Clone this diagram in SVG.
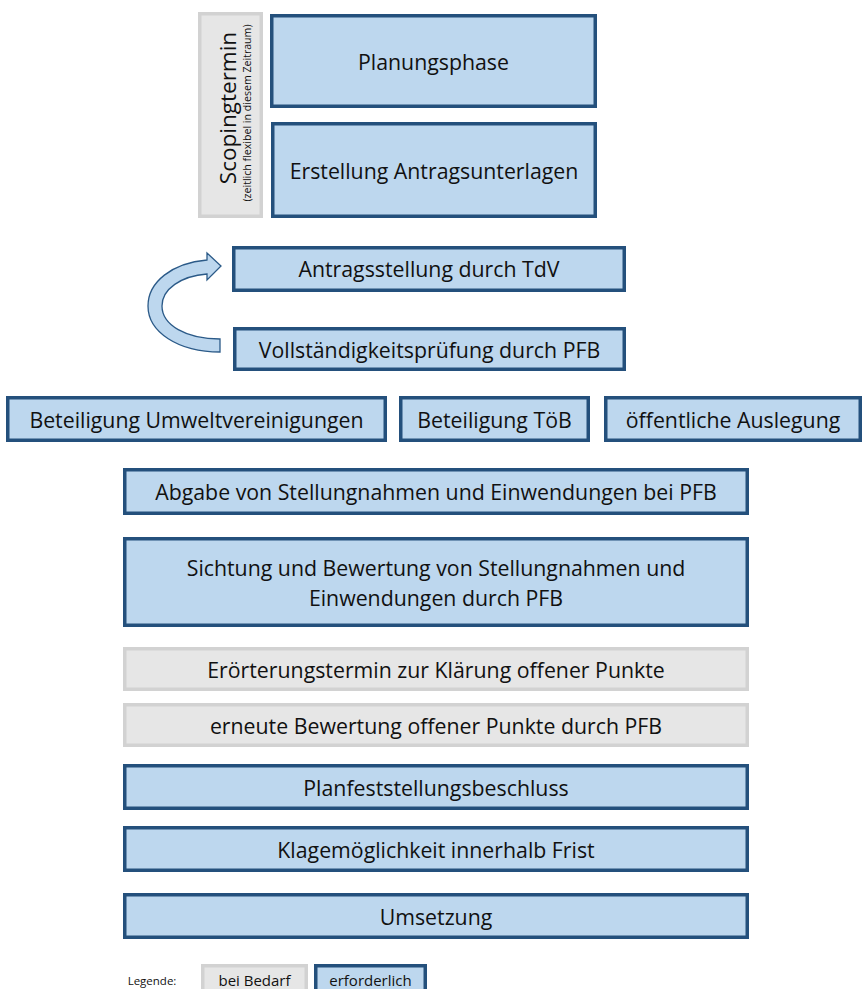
<svg xmlns="http://www.w3.org/2000/svg" width="867" height="989" viewBox="0 0 867 989">
<style>
.req{fill:#BDD7EE;stroke:#24507C;stroke-width:3.5}
.opt{fill:#E6E6E6;stroke:#D2D2D2;stroke-width:3.5}
text{font-family:"Open Sans","Noto Sans",sans-serif;fill:#111;text-anchor:middle;dominant-baseline:central}
.t{font-size:21.3px}
.arrow{fill:#BDD7EE;stroke:#2B5A88;stroke-width:1.3;stroke-linejoin:miter}
</style>
<rect width="867" height="989" fill="#FFFFFF"/>
<g id="scoping">
<rect class="opt" x="199.75" y="13.75" width="61.5" height="202.5"/>
<text transform="rotate(-90 227.5 108)" x="227.5" y="108" style="font-size:22.5px">Scopingtermin</text>
<text transform="rotate(-90 246.5 113)" x="246.5" y="113" style="font-size:10.6px">(zeitlich flexibel in diesem Zeitraum)</text>
</g>
<g id="planungsphase">
<rect class="req" x="271.75" y="15.75" width="323.5" height="90.5"/>
<text class="t" x="433.5" y="61">Planungsphase</text>
</g>
<g id="erstellung">
<rect class="req" x="272.75" y="123.75" width="322.5" height="92.5"/>
<text class="t" x="434" y="170">Erstellung Antragsunterlagen</text>
</g>
<g id="antragsstellung">
<rect class="req" x="233.75" y="247.75" width="390.5" height="42.5"/>
<text class="t" x="429" y="268.5">Antragsstellung durch TdV</text>
</g>
<g id="vollstaendigkeit">
<rect class="req" x="234.75" y="328.75" width="389.5" height="40.5"/>
<text class="t" x="429.5" y="349">Vollständigkeitsprüfung durch PFB</text>
</g>
<g id="connectors">
<path class="arrow" d="M220,352 C178,352 148,332 148,306 C148,282 172,263 207,260 L207,253 L221,266 L207,280 L207,274 C181,276 162,289 162,306 C162,325 186,339 220,339 Z"/>
</g>
<g id="umweltvereinigungen">
<rect class="req" x="7.75" y="397.75" width="377.5" height="42.5"/>
<text class="t" x="196.5" y="419">Beteiligung Umweltvereinigungen</text>
</g>
<g id="toeb">
<rect class="req" x="400.75" y="397.75" width="187.5" height="42.5"/>
<text class="t" x="494.5" y="419">Beteiligung TöB</text>
</g>
<g id="auslegung">
<rect class="req" x="605.75" y="397.75" width="254.5" height="42.5"/>
<text class="t" x="733" y="419">öffentliche Auslegung</text>
</g>
<g id="abgabe">
<rect class="req" x="124.75" y="469.75" width="622.5" height="43.5"/>
<text class="t" x="436" y="491.5">Abgabe von Stellungnahmen und Einwendungen bei PFB</text>
</g>
<g id="sichtung">
<rect class="req" x="124.75" y="538.75" width="622.5" height="86.5"/>
<text class="t" x="436" y="567">Sichtung und Bewertung von Stellungnahmen und</text>
<text class="t" x="436" y="597">Einwendungen durch PFB</text>
</g>
<g id="eroerterung">
<rect class="opt" x="124.75" y="648.75" width="622.5" height="40.5"/>
<text class="t" x="436" y="669">Erörterungstermin zur Klärung offener Punkte</text>
</g>
<g id="erneute">
<rect class="opt" x="124.75" y="704.75" width="622.5" height="40.5"/>
<text class="t" x="436" y="725">erneute Bewertung offener Punkte durch PFB</text>
</g>
<g id="planfeststellungsbeschluss">
<rect class="req" x="124.75" y="765.75" width="622.5" height="42.5"/>
<text class="t" x="436" y="787">Planfeststellungsbeschluss</text>
</g>
<g id="klage">
<rect class="req" x="124.75" y="827.75" width="622.5" height="42.5"/>
<text class="t" x="436" y="849">Klagemöglichkeit innerhalb Frist</text>
</g>
<g id="umsetzung">
<rect class="req" x="124.75" y="894.75" width="622.5" height="42.5"/>
<text class="t" x="436" y="916">Umsetzung</text>
</g>
<g id="legende">
<text x="152" y="980" style="font-size:11.5px">Legende:</text>
<rect class="opt" x="202.75" y="965.75" width="103.5" height="30"/>
<text x="254.5" y="980" style="font-size:15px">bei Bedarf</text>
<rect class="req" x="315.75" y="965.75" width="109.5" height="30"/>
<text x="370.5" y="980" style="font-size:15px">erforderlich</text>
</g>
</svg>
